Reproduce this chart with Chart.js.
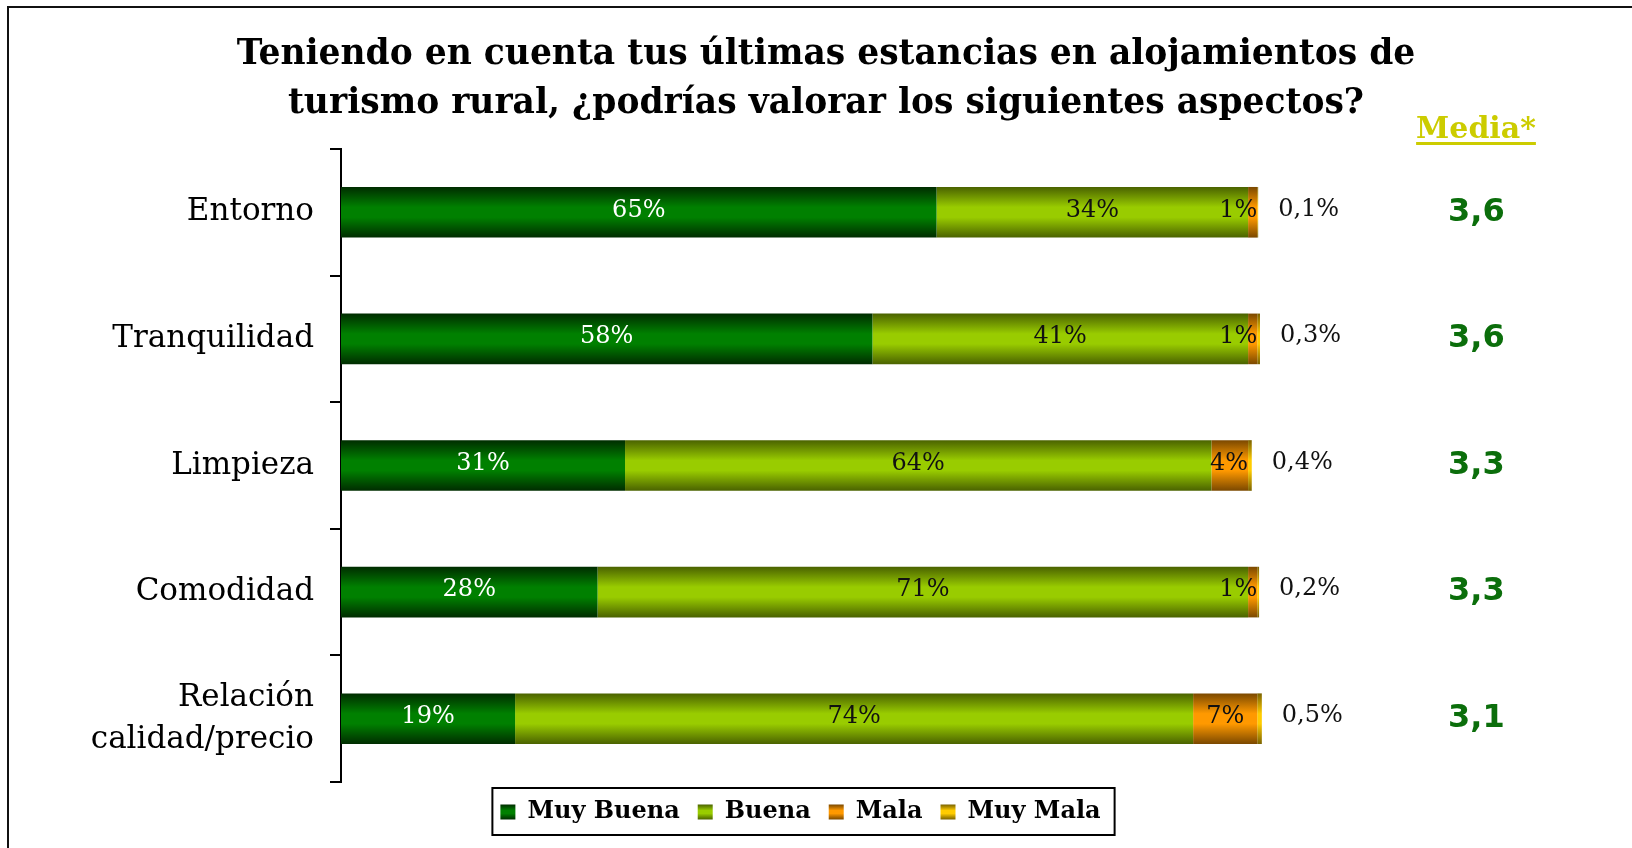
<!DOCTYPE html>
<html lang="es">
<head>
<meta charset="utf-8">
<title>Valoración de alojamientos de turismo rural</title>
<script src="https://cdn.jsdelivr.net/npm/chart.js@4.4.1/dist/chart.umd.min.js"></script>
<style>
    html, body { margin: 0; padding: 0; background: #fff; }
    #wrap { width: 1632px; height: 848px; position: relative; }
</style>
</head>
<body>
<div id="wrap"><canvas id="chart"></canvas></div>
<script>
// Chart data
const titleLines = [
    'Teniendo en cuenta tus últimas estancias en alojamientos de',
    'turismo rural, ¿podrías valorar los siguientes aspectos?'
];
const categories = ['Entorno', 'Tranquilidad', 'Limpieza', 'Comodidad', ['Relación', 'calidad/precio']];
const seriesNames = ['Muy Buena', 'Buena', 'Mala', 'Muy Mala'];
const muyBuena = [65, 58, 31, 28, 19];
const buena = [34, 41, 64, 71, 74];
const mala = [1, 1, 4, 1, 7];
const muyMala = [0.1, 0.3, 0.4, 0.2, 0.5];
const mediaValues = [3.6, 3.6, 3.3, 3.3, 3.1];
const mediaHeader = 'Media*';

// Edge / middle colour of each series gradient
const palette = [
    ['#002c00', '#008000'],
    ['#4a6200', '#99cc00'],
    ['#7a4800', '#ff9900'],
    ['#7a6200', '#ffcc00']
];
const BAR_PCT = 0.4;
const SERIF = "'DejaVu Serif', 'Liberation Serif', serif";

// Format with a decimal comma
function fmt(v) {
    return String(v).replace('.', ',');
}

function verticalGradient(ctx, top, bottom, colors) {
    const g = ctx.createLinearGradient(0, top, 0, bottom);
    g.addColorStop(0, colors[0]);
    g.addColorStop(0.4, colors[1]);
    g.addColorStop(0.6, colors[1]);
    g.addColorStop(1, colors[0]);
    return g;
}

// Scriptable fill: gradient across each bar's thickness
function barFill(colors) {
    return function(context) {
        const chart = context.chart;
        const yScale = chart.scales.y;
        if (!yScale || !yScale.height || context.dataIndex === undefined) return colors[1];
        const center = yScale.getPixelForValue(context.dataIndex);
        if (!isFinite(center)) return colors[1];
        const half = yScale.height / categories.length * BAR_PCT / 2;
        return verticalGradient(chart.ctx, center - half, center + half, colors);
    };
}

// Frame, legend box, data labels and the "Media*" header
const decorations = {
    id: 'decorations',
    beforeDraw(chart) {
        const ctx = chart.ctx;
        ctx.save();
        ctx.fillStyle = '#fff';
        ctx.fillRect(0, 0, chart.width, chart.height);
        ctx.strokeStyle = '#111';
        ctx.lineWidth = 2;
        ctx.beginPath();
        ctx.moveTo(chart.width, 7);
        ctx.lineTo(8, 7);
        ctx.lineTo(8, chart.height);
        ctx.stroke();
        ctx.restore();

        // gradient legend markers
        const legend = chart.legend;
        legend.legendItems.forEach((item, i) => {
            const hb = legend.legendHitBoxes[i];
            if (!hb) return;
            const top = hb.top + (hb.height - 15) / 2;
            item.fillStyle = verticalGradient(ctx, top, top + 15, palette[item.datasetIndex]);
            item.lineWidth = 0;
        });
    },
    afterDatasetsDraw(chart) {
        const ctx = chart.ctx;
        ctx.save();
        ctx.textBaseline = 'middle';
        ctx.font = '24px ' + SERIF;
        chart.data.datasets.forEach((ds, i) => {
            const meta = chart.getDatasetMeta(i);
            meta.data.forEach((bar, j) => {
                const p = bar.getProps(['x', 'y', 'base'], true);
                const text = fmt(ds.data[j]) + '%';
                if (i === 3) {
                    ctx.textAlign = 'left';
                    ctx.fillStyle = '#111';
                    ctx.fillText(text, p.x + 20, p.y - 3);
                    return;
                }
                const w = ctx.measureText(text).width;
                let cx = (p.base + p.x) / 2;
                if (cx + w / 2 > p.x) cx = p.x - w / 2;
                ctx.textAlign = 'center';
                ctx.fillStyle = i === 0 ? '#fff' : '#111';
                ctx.fillText(text, cx, p.y - 2);
            });
        });
        ctx.restore();
    },
    afterDraw(chart) {
        const ctx = chart.ctx;
        ctx.save();
        // border round the legend
        const boxes = chart.legend.legendHitBoxes;
        if (boxes.length) {
            const first = boxes[0];
            const last = boxes[boxes.length - 1];
            const cy = first.top + first.height / 2;
            ctx.strokeStyle = '#000';
            ctx.lineWidth = 2;
            ctx.strokeRect(first.left - 8, cy - 24, last.left + last.width - first.left + 22, 47);
        }
        // "Media*" column header
        const cx = chart.chartArea.right + 216;
        ctx.font = 'bold 30px ' + SERIF;
        ctx.fillStyle = '#cccc00';
        ctx.textAlign = 'center';
        ctx.textBaseline = 'alphabetic';
        ctx.fillText(mediaHeader, cx, 138);
        const w = ctx.measureText(mediaHeader).width;
        ctx.fillRect(cx - w / 2, 142, w, 3);
        ctx.restore();
    }
};

const datasets = [muyBuena, buena, mala, muyMala].map((values, i) => ({
    label: seriesNames[i],
    data: values,
    backgroundColor: barFill(palette[i]),
    borderWidth: 0,
    barPercentage: BAR_PCT,
    categoryPercentage: 1,
    clip: false
}));

Chart.defaults.color = '#000';
Chart.defaults.font.family = SERIF;

new Chart(document.getElementById('chart').getContext('2d'), {
    type: 'bar',
    data: {
        labels: categories,
        datasets: datasets
    },
    options: {
        indexAxis: 'y',
        responsive: true,
        maintainAspectRatio: false,
        animation: false,
        layout: {
            padding: { left: 20, right: 0, top: 0, bottom: 14 }
        },
        scales: {
            x: {
                display: false,
                stacked: true,
                min: 0,
                max: 100.3
            },
            y: {
                stacked: true,
                grid: {
                    drawOnChartArea: false,
                    offset: true,
                    tickLength: 11,
                    color: '#000',
                    lineWidth: 2
                },
                border: { display: true, color: '#000', width: 2 },
                ticks: {
                    color: '#000',
                    padding: 16,
                    autoSkip: false,
                    font: { family: SERIF, size: 31, lineHeight: 1.35 }
                },
                afterFit(scale) {
                    scale.width = 321;
                }
            },
            // empty space between the bars and the Media column
            gap: {
                type: 'linear',
                position: 'right',
                weight: 0,
                grid: { display: false },
                border: { display: false },
                ticks: { display: false },
                afterFit(scale) {
                    scale.width = 180;
                }
            },
            y2: {
                type: 'category',
                position: 'right',
                weight: 10,
                labels: mediaValues.map(fmt),
                offset: true,
                grid: { display: false },
                border: { display: false },
                ticks: {
                    color: '#0b6e0b',
                    crossAlign: 'center',
                    padding: 0,
                    autoSkip: false,
                    font: { family: "'DejaVu Sans', Verdana, sans-serif", size: 32, weight: 'bold' }
                },
                afterFit(scale) {
                    scale.width = 192;
                }
            }
        },
        plugins: {
            title: {
                display: true,
                text: titleLines,
                color: '#000',
                padding: { top: 31, bottom: 20 },
                font: { family: SERIF, size: 34.5, weight: 'bold', lineHeight: 1.42 }
            },
            legend: {
                position: 'bottom',
                fullSize: false,
                labels: {
                    boxWidth: 15,
                    boxHeight: 15,
                    padding: 18,
                    color: '#000',
                    font: { family: SERIF, size: 24, weight: 'bold' }
                }
            },
            tooltip: { enabled: false }
        }
    },
    plugins: [decorations]
});
</script>
</body>
</html>
